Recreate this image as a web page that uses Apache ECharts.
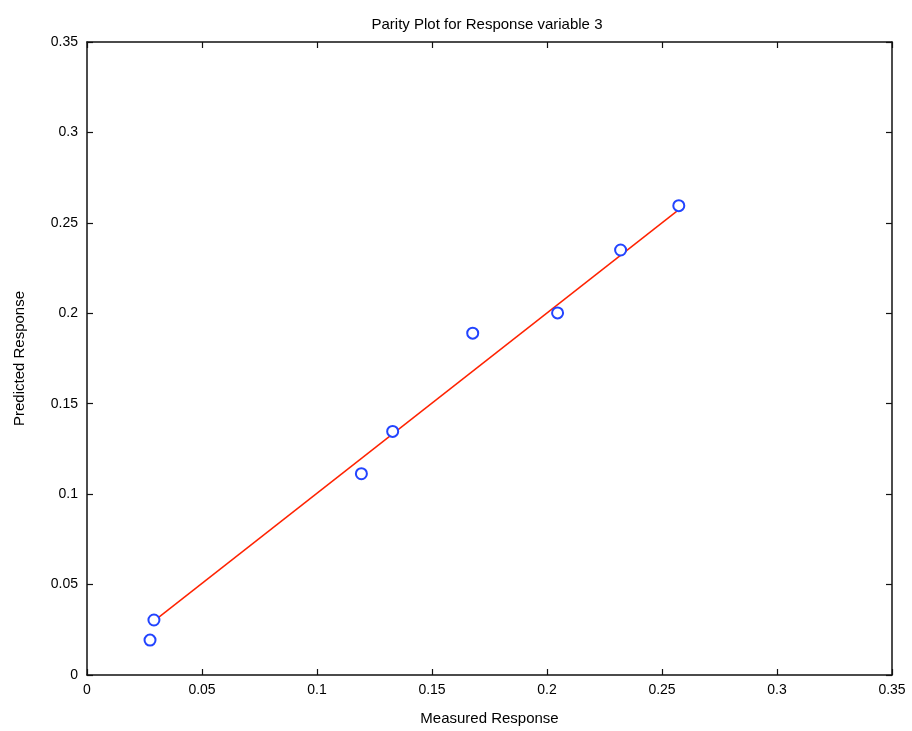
<!DOCTYPE html>
<html>
<head>
<meta charset="utf-8">
<script src="https://cdn.jsdelivr.net/npm/echarts@6/dist/echarts.min.js"></script>
<style>
html, body { margin: 0; padding: 0; background: #fff; }
#main { width: 912px; height: 731px; }
</style>
</head>
<body>
<div id="main"></div>
<script>
// measured vs predicted values for response variable 3
var measured = [0.0274, 0.0291, 0.1193, 0.1329, 0.1677, 0.2046, 0.2320, 0.2573];
var predicted = [0.0193, 0.0304, 0.1113, 0.1347, 0.1890, 0.2002, 0.2350, 0.2595];
// red fit line end points
var fitX = [0.0285, 0.2565];
var fitY = [0.0292, 0.2565];

var points = measured.map(function (m, i) { return [m, predicted[i]]; });
var fitLine = fitX.map(function (x, i) { return [x, fitY[i]]; });

var font = 'Liberation Sans';
var axisLine = { show: true, onZero: false, lineStyle: { color: '#111', width: 1.5 } };
var tickIn = { show: true, inside: true, length: 6, lineStyle: { color: '#111', width: 1.2 } };

var myChart = echarts.init(document.getElementById('main'));
var option = {
    animation: false,
    backgroundColor: '#fff',
    title: {
        text: 'Parity Plot for Response variable 3',
        left: 482,
        top: 12,
        textAlign: 'center',
        textStyle: { fontFamily: font, fontSize: 15, fontWeight: 'normal', color: '#000' }
    },
    grid: { left: 87, right: 20, top: 42, bottom: 55 },
    xAxis: [
        {
            type: 'value', min: 0, max: 0.35, interval: 0.05,
            name: 'Measured Response', nameLocation: 'middle', nameGap: 36,
            nameTextStyle: { fontFamily: font, fontSize: 15, color: '#000' },
            axisLine: axisLine, axisTick: tickIn,
            axisLabel: { fontFamily: font, fontSize: 14, color: '#000', margin: 8 },
            splitLine: { show: false }
        },
        {
            type: 'value', position: 'top', min: 0, max: 0.35, interval: 0.05,
            axisLine: axisLine, axisTick: tickIn,
            axisLabel: { show: false }, splitLine: { show: false }
        }
    ],
    yAxis: [
        {
            type: 'value', min: 0, max: 0.35, interval: 0.05,
            name: 'Predicted Response', nameLocation: 'middle', nameGap: 60,
            nameTextStyle: { fontFamily: font, fontSize: 15, color: '#000' },
            axisLine: axisLine, axisTick: tickIn,
            axisLabel: { fontFamily: font, fontSize: 14, color: '#000', margin: 9 },
            splitLine: { show: false }
        },
        {
            type: 'value', position: 'right', min: 0, max: 0.35, interval: 0.05,
            axisLine: axisLine, axisTick: tickIn,
            axisLabel: { show: false }, splitLine: { show: false }
        }
    ],
    series: [
        {
            type: 'line',
            data: fitLine,
            showSymbol: false,
            lineStyle: { color: '#ff2200', width: 1.5 },
            z: 2
        },
        {
            type: 'scatter',
            data: points,
            symbol: 'emptyCircle',
            symbolSize: 11,
            itemStyle: { color: '#2244ff', borderWidth: 1.5, opacity: 1 },
            z: 3
        }
    ]
};
myChart.setOption(option);
</script>
</body>
</html>
